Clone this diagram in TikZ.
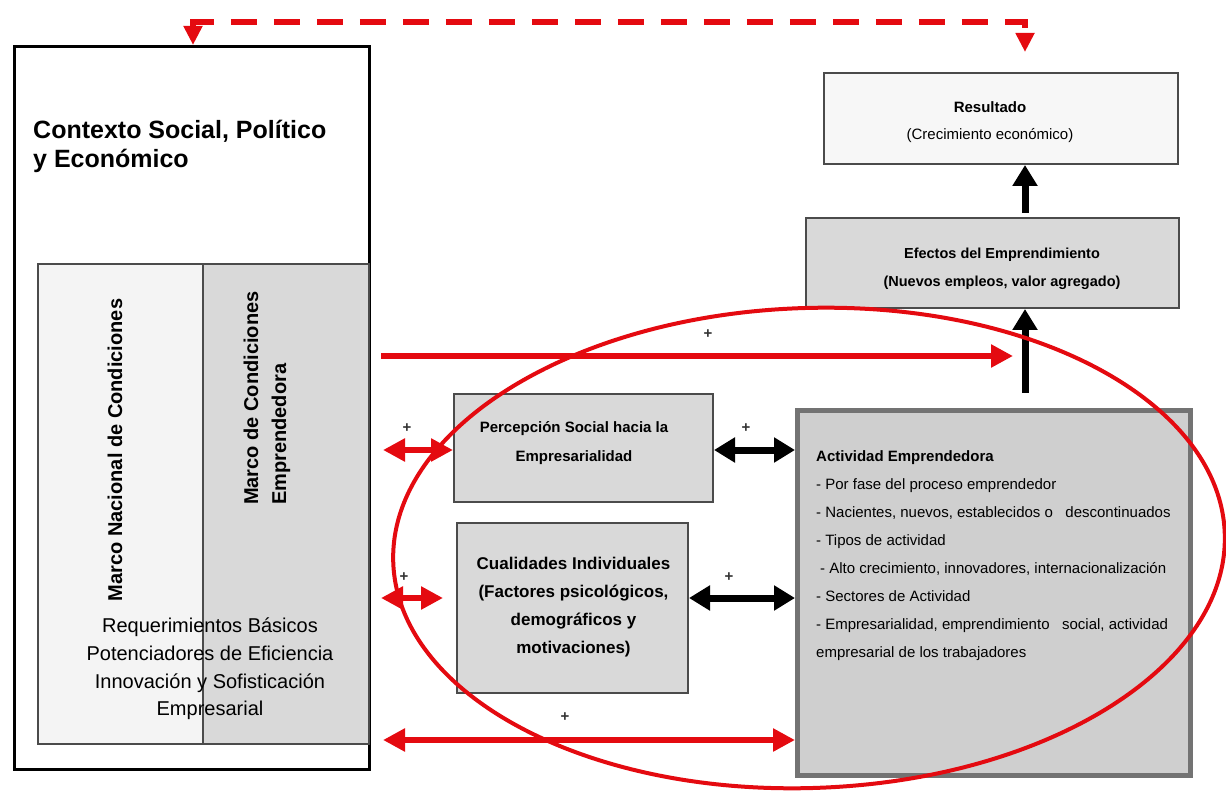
\documentclass[tikz,border=0pt]{standalone}
\usepackage{fontspec}
\setmainfont{Liberation Sans}
\usetikzlibrary{arrows.meta, positioning}
\definecolor{rojo}{RGB}{228,10,16}
\definecolor{grisA}{RGB}{244,244,244}
\definecolor{grisB}{RGB}{217,217,217}
\definecolor{grisC}{RGB}{207,207,207}
\definecolor{borde}{RGB}{75,75,75}

\begin{document}
\begin{tikzpicture}[x=1pt,y=-1pt,
  caja/.style={draw=borde, line width=2pt, anchor=north west, inner sep=0pt},
  texto/.style={inner sep=0pt, align=center},
  flechaR/.style={rojo, line width=5.5pt, >={Triangle[length=22pt,width=22pt]}},
  flechaN/.style={black, line width=7pt, >={Triangle[length=21pt,width=24pt]}},
  punteada/.style={rojo, line width=5.5pt, dash pattern=on 26pt off 17pt, >={Triangle[length=19pt,width=18pt]}},
  mas/.style={font=\fontsize{15}{15}\selectfont\bfseries, text=black!80, inner sep=0pt}]
\useasboundingbox (0,0) rectangle (1226,791);

% cajas
\node[caja, draw=black, line width=3pt, minimum width=355, minimum height=723] (ctx) at (13,45) {};
\node[caja, fill=grisA, minimum width=165, minimum height=480] (marcoN) at (37,263) {};
\node[caja, fill=grisB, minimum width=166, minimum height=480] (marcoE) at (202,263) {};
\node[caja, fill=grisA!70!white, minimum width=354, minimum height=91] (res) at (823,72) {};
\node[caja, fill=grisB, minimum width=373, minimum height=90] (efe) at (805,217) {};
\node[caja, fill=grisB, minimum width=259, minimum height=108] (perc) at (453,393) {};
\node[caja, fill=grisB, minimum width=231, minimum height=170] (cual) at (456,522) {};
\node[caja, fill=grisC, draw=gray!90!black, line width=5pt, minimum width=393, minimum height=365] (act) at (795,408) {};

% textos
\node[texto, anchor=west, align=left, font=\fontsize{25}{29}\selectfont\bfseries] (titulo) at (33,146) {Contexto Social, Político\\y Económico};
\node[texto, rotate=90, font=\fontsize{20}{28}\selectfont\bfseries] (tNac) at (115,450) {Marco Nacional de Condiciones};
\node[texto, rotate=90, anchor=west, align=left, font=\fontsize{20}{28}\selectfont\bfseries] (tEmp) at (267,505) {Marco de Condiciones\\Emprendedora};
\node[texto, font=\fontsize{20}{27.7}\selectfont] (tReq) at (210,669) {Requerimientos Básicos\\Potenciadores de Eficiencia\\Innovación y Sofisticación\\Empresarial};
\node[texto, font=\fontsize{15}{27}\selectfont] (tRes) at (990,122.5) {\textbf{Resultado}\\(Crecimiento económico)};
\node[texto, font=\fontsize{14.5}{28}\selectfont\bfseries] (tEfe) at (1002,269) {Efectos del Emprendimiento\\(Nuevos empleos, valor agregado)};
\node[texto, font=\fontsize{15}{29}\selectfont\bfseries] (tPerc) at (574,443.5) {Percepción Social hacia la\\Empresarialidad};
\node[texto, font=\fontsize{17}{28}\selectfont\bfseries] (tCual) at (573.5,607.5) {Cualidades Individuales\\(Factores psicológicos,\\demográficos y\\motivaciones)};
\node[texto, anchor=west, align=left, font=\fontsize{15}{28}\selectfont] (tAct) at (816,556) {\textbf{Actividad Emprendedora}\\- Por fase del proceso emprendedor\\- Nacientes, nuevos, establecidos o\ \ \ descontinuados\\- Tipos de actividad\\\hspace*{4pt}- Alto crecimiento, innovadores, internacionalización\\- Sectores de Actividad\\- Empresarialidad, emprendimiento\ \ \ social, actividad\\empresarial de los trabajadores};

% filas y columnas de las flechas
\coordinate (colA) at (1025,0);
\coordinate (filaT) at (0,356);
\coordinate (filaP) at (0,450);
\coordinate (filaC) at (0,598);
\coordinate (filaB) at (0,740);
\coordinate (dashL) at (193,22);
\coordinate (dashR) at (1025,22);

\draw[punteada,<->,shorten >=20pt] (dashL |- ctx.north) -- (dashL) -- (dashR) -- (dashR |- res.north);%retroalimentacion
\draw[flechaN,->,shorten <=15pt] (act.north -| colA) -- (efe.south -| colA);
\draw[flechaN,->,shorten <=4pt] (efe.north -| colA) -- (res.south -| colA);
\draw[flechaR,->,shorten <=10pt,shorten >=12pt] (ctx.east |- filaT) -- (colA |- filaT);
\draw[flechaR,<->,shorten <=12pt] (ctx.east |- filaP) -- (perc.west |- filaP);
\draw[flechaN,<->] (perc.east |- filaP) -- (act.west |- filaP);
\draw[flechaR,<->,shorten <=10pt,shorten >=13pt] (ctx.east |- filaC) -- (cual.west |- filaC);
\draw[flechaN,<->] (cual.east |- filaC) -- (act.west |- filaC);
\draw[flechaR,<->,shorten <=12pt] (ctx.east |- filaB) -- (act.west |- filaB);

\foreach \px/\py [count=\i] in {708/334, 407/428, 746/428, 404/577, 729/577, 565/717}
  \node[mas] (mas\i) at (\px,\py) {+};

\draw[rojo, line width=4pt, rotate around={2:(809,548)}] (809,548) ellipse [x radius=416, y radius=240];%ovalo
\end{tikzpicture}
\end{document}
